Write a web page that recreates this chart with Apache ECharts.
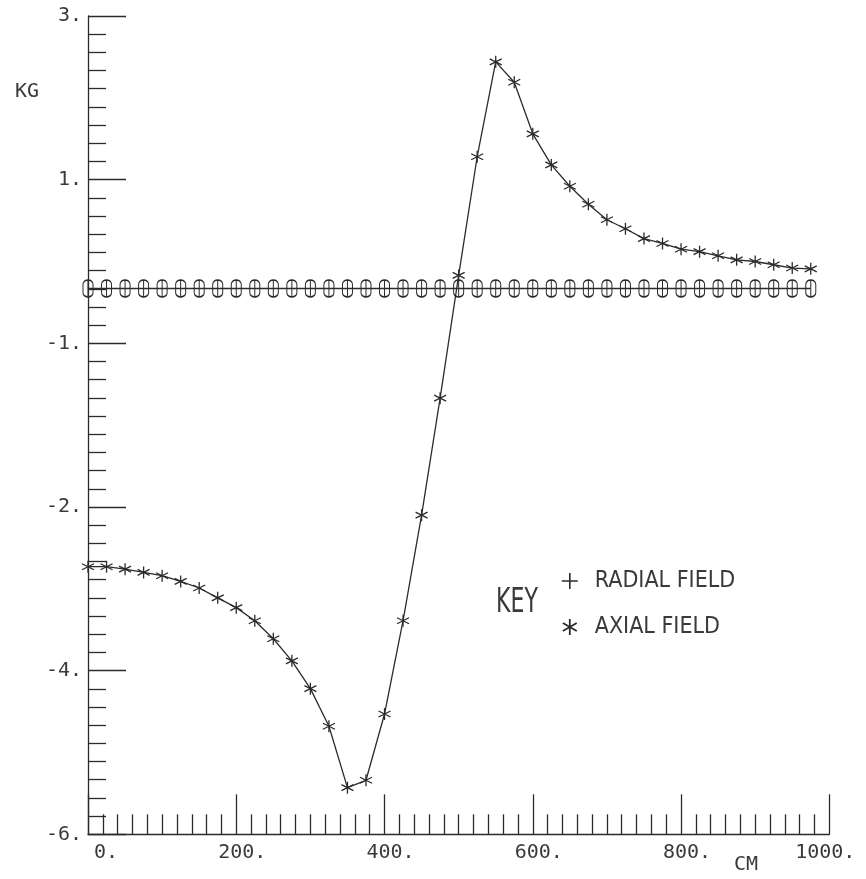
<!DOCTYPE html>
<html>
<head>
<meta charset="utf-8">
<title>Field profile</title>
<script src="https://cdn.jsdelivr.net/npm/echarts@6/dist/echarts.min.js"></script>
<style>
  html, body { margin: 0; padding: 0; background: #ffffff; }
  #chart { width: 866px; height: 879px; }
</style>
</head>
<body>
<div id="chart"></div>
<script>
// Position along the axis (cm)
const positions = [0, 25, 50, 75, 100, 125, 150, 175, 200, 225,
                   250, 275, 300, 325, 350, 375, 400, 425, 450, 475,
                   500, 525, 550, 575, 600, 625, 650, 675, 700, 725,
                   750, 775, 800, 825, 850, 875, 900, 925, 950, 975];

// Radial field, in axis units
const radialField = [0.67, 0.67, 0.67, 0.67, 0.67, 0.67, 0.67, 0.67, 0.67, 0.67,
                     0.67, 0.67, 0.67, 0.67, 0.67, 0.67, 0.67, 0.67, 0.67, 0.67,
                     0.67, 0.67, 0.67, 0.67, 0.67, 0.67, 0.67, 0.67, 0.67, 0.67,
                     0.67, 0.67, 0.67, 0.67, 0.67, 0.67, 0.67, 0.67, 0.67, 0.67];

// Axial field, in axis units
const axialField = [-2.73, -2.73, -2.76, -2.80, -2.84, -2.91, -2.99, -3.11, -3.23, -3.39,
                    -3.61, -3.88, -4.22, -4.68, -5.43, -5.34, -4.53, -3.39, -2.10, -0.67,
                     0.83,  2.28,  3.44,  3.19,  2.56,  2.18,  1.92,  1.70,  1.51,  1.40,
                     1.28,  1.22,  1.15,  1.12,  1.07,  1.02,  1.00,  0.96,  0.92,  0.91];

// Tick positions and the labels printed at them
const yTickValues = [-6, -4, -2, 0, 2, 4];
const yTickLabels = ['-6.', '-4.', '-2.', '-1.', '1.', '3.'];
const xTickValues = [0, 200, 400, 600, 800, 1000];
const xTickLabels = ['0.', '200.', '400.', '600.', '800.', '1000.'];

const INK = '#2b2b2b';
const TEXT = '#3a3a3a';
const MONO = '"DejaVu Sans Mono", "Liberation Mono", monospace';
const NARROW = '"Liberation Sans Narrow", "DejaVu Sans Condensed", "Liberation Sans", sans-serif';

// Plotter-style marker shapes
const starPath = 'path://M5,0L5,10M0.67,2.5L9.33,7.5M0.67,7.5L9.33,2.5';
const plusPath = 'path://M5,0L5,10M0,5L10,5';
const ovalBarPath = 'path://M0,4A4,4 0 0 1 8,4L8,12A4,4 0 0 1 0,12ZM4,0L4,16';

const pair = (vals) => positions.map((p, i) => [p, vals[i]]);

const chart = echarts.init(document.getElementById('chart'), null, { renderer: 'canvas' });

chart.setOption({
  backgroundColor: '#ffffff',
  animation: false,
  grid: { left: 88, top: 16, right: 36.7, bottom: 44.7, containLabel: false },
  xAxis: {
    type: 'value',
    min: 0, max: 1000, interval: 200,
    splitLine: { show: false },
    axisLine: { show: true, onZero: false, lineStyle: { color: INK, width: 1.3 } },
    axisTick: { show: true, inside: true, length: 40, lineStyle: { color: INK, width: 1.3 } },
    minorTick: { show: true, splitNumber: 10, length: 20, lineStyle: { color: INK, width: 1.3 } },
    axisLabel: {
      margin: 8,
      color: TEXT,
      fontFamily: MONO,
      fontSize: 20,
      formatter: (v) => {
        const i = xTickValues.indexOf(v);
        if (i < 0) return '';
        const key = i === 0 ? 'first' : (i === xTickValues.length - 1 ? 'last' : 'mid');
        return '{' + key + '|' + xTickLabels[i] + '}';
      },
      rich: {
        first: { fontFamily: MONO, fontSize: 20, color: TEXT, padding: [0, 0, 0, 36] },
        mid:   { fontFamily: MONO, fontSize: 20, color: TEXT, padding: [0, 0, 0, 12] },
        last:  { fontFamily: MONO, fontSize: 20, color: TEXT, padding: [0, 8, 0, 0] }
      }
    }
  },
  yAxis: {
    type: 'value',
    min: -6, max: 4, interval: 2,
    splitLine: { show: false },
    axisLine: { show: true, onZero: false, lineStyle: { color: INK, width: 1.3 } },
    axisTick: { show: true, inside: true, length: 38, lineStyle: { color: INK, width: 1.3 } },
    minorTick: { show: true, splitNumber: 9, length: 18, lineStyle: { color: INK, width: 1.3 } },
    axisLabel: {
      margin: 6,
      color: TEXT,
      fontFamily: MONO,
      fontSize: 20,
      formatter: (v) => {
        const i = yTickValues.indexOf(v);
        return i < 0 ? '' : yTickLabels[i];
      }
    }
  },
  legend: {
    orient: 'vertical',
    left: 556,
    top: 563,
    itemWidth: 40,
    itemHeight: 16,
    itemGap: 20,
    selectedMode: false,
    textStyle: { fontFamily: NARROW, fontSize: 23, color: TEXT, lineHeight: 26 },
    data: [
      { name: 'RADIAL FIELD', icon: plusPath,
        itemStyle: { color: 'rgba(0,0,0,0)', borderColor: INK, borderWidth: 1.6 } },
      { name: 'AXIAL FIELD', icon: starPath,
        itemStyle: { color: 'rgba(0,0,0,0)', borderColor: INK, borderWidth: 1.8 } }
    ]
  },
  graphic: [
    { type: 'text', x: 27, y: 92,
      style: { text: 'KG', fontFamily: MONO, fontSize: 20, fill: TEXT, align: 'center', verticalAlign: 'middle' } },
    { type: 'text', x: 746, y: 865,
      style: { text: 'CM', fontFamily: MONO, fontSize: 20, fill: TEXT, align: 'center', verticalAlign: 'middle' } },
    { type: 'text', x: 517, y: 603, scaleX: 0.72,
      style: { text: 'KEY', fontFamily: NARROW, fontSize: 34, fill: TEXT, align: 'center', verticalAlign: 'middle' } }
  ],
  series: [
    {
      name: 'RADIAL FIELD',
      type: 'line',
      data: pair(radialField),
      showAllSymbol: true,
      symbol: ovalBarPath,
      symbolSize: [10, 17],
      itemStyle: { color: 'rgba(0,0,0,0)', borderColor: INK, borderWidth: 1.3 },
      lineStyle: { color: INK, width: 1.3 },
      emphasis: { disabled: true },
      z: 2
    },
    {
      name: 'AXIAL FIELD',
      type: 'line',
      data: pair(axialField),
      showAllSymbol: true,
      symbol: starPath,
      symbolSize: 12,
      itemStyle: { color: 'rgba(0,0,0,0)', borderColor: INK, borderWidth: 1.3 },
      lineStyle: { color: INK, width: 1.3 },
      emphasis: { disabled: true },
      z: 3
    }
  ]
});
</script>
</body>
</html>
